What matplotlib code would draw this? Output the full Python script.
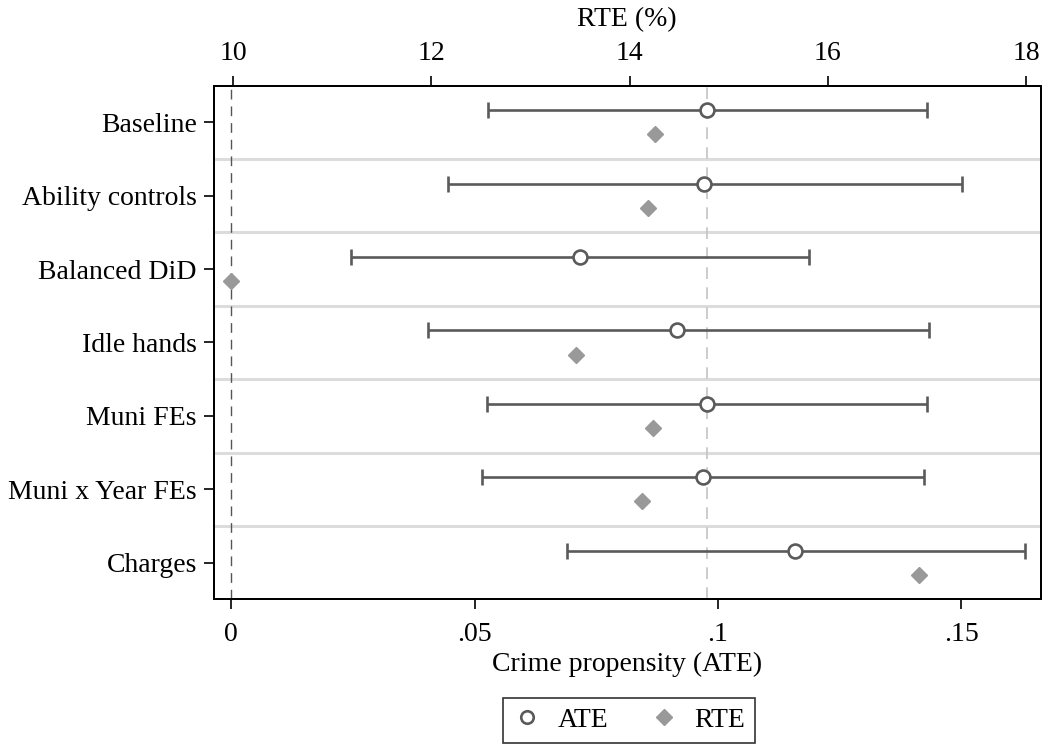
import matplotlib.pyplot as plt
from matplotlib.lines import Line2D
import numpy as np

# coefficient plot: ATE (bottom axis) with 95% CI, RTE in % (top axis)
models = ["Baseline", "Ability controls", "Balanced DiD", "Idle hands",
          "Muni FEs", "Muni x Year FEs", "Charges"]
ate = [0.0978, 0.0971, 0.0716, 0.0917, 0.0977, 0.0969, 0.1159]
ate_lo = [0.0528, 0.0446, 0.0245, 0.0405, 0.0525, 0.0516, 0.0689]
ate_hi = [0.1430, 0.1501, 0.1187, 0.1434, 0.1429, 0.1423, 0.1632]
rte = [14.26, 14.19, 9.98, 13.46, 14.24, 14.13, 16.92]

ate_ticks = [0, 0.05, 0.1, 0.15]
ate_ticklabels = ["0", ".05", ".1", ".15"]
rte_ticks = [10, 12, 14, 16, 18]

plt.rcParams['font.family'] = ['Liberation Serif', 'DejaVu Serif']
FS = 20

fig = plt.figure(figsize=(10.43, 7.47), dpi=100)
ax = fig.add_axes([0.2047, 0.1976, 0.998 - 0.2047, 0.8854 - 0.1976])

y = np.arange(1, len(models) + 1)
off = 0.165

# separators between models
for s in np.arange(1.5, len(models), 1):
    ax.axhline(s, color='#dcdcdc', lw=2.2, zorder=0)

# reference lines
zl = ax.axvline(0, color='#555555', lw=1.0, zorder=1)
zl.set_dashes((7, 5))
bl = ax.axvline(ate[0], color='#c4c4c4', lw=1.2, zorder=1)
bl.set_dashes((7, 5))

ate = np.array(ate)
err = [ate - np.array(ate_lo), np.array(ate_hi) - ate]
ax.errorbar(ate, y - off, xerr=err, fmt='none', ecolor='#5a5a5a',
            elinewidth=1.9, capsize=5.5, capthick=1.9, zorder=3)
ax.plot(ate, y - off, 'o', ms=10, mfc='white', mec='#5a5a5a', mew=1.9,
        ls='none', zorder=4)

ax.set_xlim(-0.00366, 0.1664)
ax.set_ylim(len(models) + 0.5, 0.5)
ax.set_yticks(y)
ax.set_yticklabels(models)
ax.set_xticks(ate_ticks)
ax.set_xticklabels(ate_ticklabels)
ax.set_xlabel("Crime propensity (ATE)", fontsize=FS, labelpad=4)
ax.tick_params(axis='both', labelsize=FS, length=7, width=1.2, direction='out')
ax.tick_params(axis='x', pad=9)
ax.tick_params(axis='y', pad=5)

ax2 = ax.twiny()
ax2.plot(rte, y + off, 'D', ms=8.5, color='#999999', mec='#999999',
         ls='none', zorder=4)
ax2.set_xlim(9.804, 18.148)
ax2.set_xticks(rte_ticks)
ax2.set_xlabel("RTE (%)", fontsize=FS, labelpad=11)
ax2.tick_params(axis='x', labelsize=FS, length=7, width=1.2, pad=7)
ax2.set_ylim(len(models) + 0.5, 0.5)

for a in (ax, ax2):
    for sp in a.spines.values():
        sp.set_linewidth(1.4)
        sp.set_color('black')

handles = [
    Line2D([], [], marker='o', ls='none', ms=9, mfc='white', mec='#5a5a5a', mew=1.9),
    Line2D([], [], marker='D', ls='none', ms=8, color='#999999'),
]
leg = fig.legend(handles, ["ATE", "RTE"], loc='center', ncol=2,
                 bbox_to_anchor=(0.603, 0.0355), fontsize=FS, frameon=True,
                 fancybox=False, edgecolor='black', handlelength=1.0,
                 handletextpad=0.6, columnspacing=1.5, borderpad=0.35)
leg.get_frame().set_linewidth(1.2)

fig.savefig("out.png", dpi=100)
